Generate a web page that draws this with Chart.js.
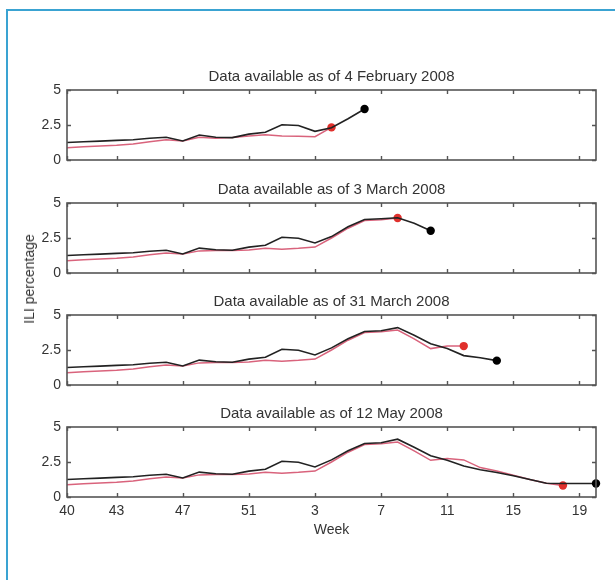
<!DOCTYPE html>
<html>
<head>
<meta charset="utf-8">
<script src="https://cdn.jsdelivr.net/npm/chart.js@4"></script>
<style>
  html, body { margin: 0; padding: 0; background: #fff; }
  body { width: 615px; height: 580px; position: relative; overflow: hidden; font-family: "Liberation Sans", Arial, sans-serif; }
  #frame { position: absolute; left: 6px; top: 9px; width: 620px; height: 580px;
           border-left: 2px solid #3aa3d2; border-top: 2px solid #3aa3d2; }
  canvas { position: absolute; left: 0; }
  #ylab { position: absolute; left: 29px; top: 279px; transform: translate(-50%, -50%) rotate(-90deg);
          font-size: 14px; color: #333; white-space: nowrap; }
</style>
</head>
<body>
<div id="frame"></div>
<canvas id="p1" width="615" height="108" style="top:68px"></canvas>
<canvas id="p2" width="615" height="108" style="top:181px"></canvas>
<canvas id="p3" width="615" height="108" style="top:293px"></canvas>
<canvas id="p4" width="615" height="134" style="top:405px"></canvas>
<div id="ylab">ILI percentage</div>
<script>
// weeks 40..52 of 2007, then 1..20 of 2008 (x index 0..32)
const weeks = [40,41,42,43,44,45,46,47,48,49,50,51,52,1,2,3,4,5,6,7,8,9,10,11,12,13,14,15,16,17,18,19,20];
const tickIdx = [0, 3, 7, 11, 15, 19, 23, 27, 31];
const yTicks = [0, 2.5, 5];

const titles = [
  'Data available as of 4 February 2008',
  'Data available as of 3 March 2008',
  'Data available as of 31 March 2008',
  'Data available as of 12 May 2008'
];

// black: model estimate, red: surveillance data as available
const black1 = [1.25,1.3,1.35,1.4,1.45,1.55,1.62,1.36,1.78,1.62,1.6,1.85,1.98,2.52,2.46,2.05,2.3,2.95,3.64];
const red1   = [0.88,0.95,1.0,1.05,1.15,1.3,1.45,1.35,1.62,1.56,1.6,1.72,1.8,1.72,1.7,1.66,2.33];

const black2 = [1.25,1.3,1.35,1.4,1.45,1.55,1.62,1.36,1.78,1.66,1.62,1.85,1.98,2.55,2.48,2.15,2.6,3.3,3.82,3.88,3.95,3.55,3.02];
const red2   = [0.87,0.95,1.0,1.05,1.15,1.3,1.42,1.36,1.58,1.6,1.6,1.65,1.76,1.7,1.76,1.85,2.5,3.2,3.75,3.8,3.93];

const black3 = [1.25,1.3,1.35,1.4,1.45,1.55,1.62,1.36,1.78,1.66,1.62,1.85,1.98,2.55,2.48,2.15,2.65,3.3,3.82,3.88,4.1,3.55,2.95,2.6,2.1,1.95,1.74];
const red3   = [0.87,0.95,1.0,1.05,1.15,1.3,1.42,1.36,1.58,1.6,1.6,1.65,1.76,1.7,1.76,1.85,2.5,3.2,3.75,3.8,3.92,3.3,2.6,2.78,2.78];

const black4 = [1.25,1.3,1.35,1.4,1.45,1.55,1.62,1.36,1.78,1.66,1.62,1.85,1.98,2.55,2.48,2.15,2.65,3.3,3.82,3.88,4.13,3.55,2.95,2.62,2.22,1.95,1.75,1.52,1.25,0.98,0.96,0.96,0.96];
const red4   = [0.87,0.95,1.0,1.05,1.15,1.3,1.42,1.36,1.58,1.6,1.6,1.65,1.76,1.7,1.76,1.85,2.5,3.2,3.75,3.8,3.92,3.3,2.62,2.75,2.65,2.1,1.85,1.55,1.25,0.98,0.82];

const FONT = "'Liberation Sans', Arial, sans-serif";
const BOX = '#555';

// box round the plot with inward ticks on all four sides
const boxPlugin = {
  id: 'boxTicks',
  afterDatasetsDraw(chart) {
    const { ctx, chartArea: a, scales } = chart;
    const L = 4;
    ctx.save();
    ctx.strokeStyle = BOX;
    ctx.lineWidth = 1.4;
    ctx.beginPath();
    for (const i of tickIdx) {
      const x = Math.round(scales.x.getPixelForValue(i)) + 0.5;
      ctx.moveTo(x, a.bottom); ctx.lineTo(x, a.bottom - L);
      ctx.moveTo(x, a.top); ctx.lineTo(x, a.top + L);
    }
    for (const v of yTicks) {
      const y = Math.round(scales.y.getPixelForValue(v)) + 0.5;
      ctx.moveTo(a.left, y); ctx.lineTo(a.left + L, y);
      ctx.moveTo(a.right, y); ctx.lineTo(a.right - L, y);
    }
    ctx.stroke();
    ctx.lineWidth = 1.6;
    ctx.strokeRect(a.left, a.top, a.right - a.left, a.bottom - a.top);
    ctx.restore();
  }
};

function toXY(arr) {
  return arr.map((v, i) => ({ x: i, y: v }));
}

function lastOnly(n, r) {
  return (c) => (c.dataIndex === n - 1 ? r : 0);
}

function makePanel(id, title, black, red, bottom) {
  new Chart(document.getElementById(id), {
    type: 'line',
    data: {
      datasets: [
        {
          label: 'estimate',
          data: toXY(black),
          borderColor: '#222',
          borderWidth: 1.6,
          pointRadius: lastOnly(black.length, 4.2),
          pointBackgroundColor: '#000',
          pointBorderWidth: 0,
          tension: 0,
          clip: false,
          order: 1
        },
        {
          label: 'reported',
          data: toXY(red),
          borderColor: '#d9637c',
          borderWidth: 1.5,
          pointRadius: lastOnly(red.length, 4.2),
          pointBackgroundColor: '#e0302c',
          pointBorderWidth: 0,
          tension: 0,
          clip: false,
          order: 2
        }
      ]
    },
    options: {
      responsive: false,
      animation: false,
      events: [],
      layout: { padding: { left: 0, right: 19, top: 0, bottom: 0 } },
      plugins: {
        legend: { display: false },
        tooltip: { enabled: false },
        title: {
          display: true,
          fullSize: false,
          text: title,
          color: '#333',
          font: { family: FONT, size: 15, weight: 'normal', lineHeight: 1.2 },
          padding: { top: 0, bottom: 4 }
        }
      },
      scales: {
        x: {
          type: 'linear',
          min: 0,
          max: 32,
          grid: { display: false, drawTicks: false },
          border: { display: false },
          afterBuildTicks: (s) => { s.ticks = tickIdx.map((v) => ({ value: v })); },
          afterFit: (s) => { s.height = bottom ? 42 : 16; },
          ticks: {
            display: bottom,
            autoSkip: false,
            maxRotation: 0,
            padding: 6,
            color: '#333',
            font: { family: FONT, size: 14 },
            callback: (v) => weeks[v]
          },
          title: {
            display: bottom,
            text: 'Week',
            color: '#333',
            font: { family: FONT, size: 14 },
            padding: { top: 1, bottom: 0 }
          }
        },
        y: {
          min: 0,
          max: 5,
          grid: { display: false, drawTicks: false },
          border: { display: false },
          afterBuildTicks: (s) => { s.ticks = yTicks.map((v) => ({ value: v })); },
          afterFit: (s) => { s.width = 67; },
          ticks: {
            padding: 6,
            color: '#333',
            font: { family: FONT, size: 14 },
            callback: (v) => String(v)
          }
        }
      }
    },
    plugins: [boxPlugin]
  });
}

makePanel('p1', titles[0], black1, red1, false);
makePanel('p2', titles[1], black2, red2, false);
makePanel('p3', titles[2], black3, red3, false);
makePanel('p4', titles[3], black4, red4, true);
</script>
</body>
</html>
